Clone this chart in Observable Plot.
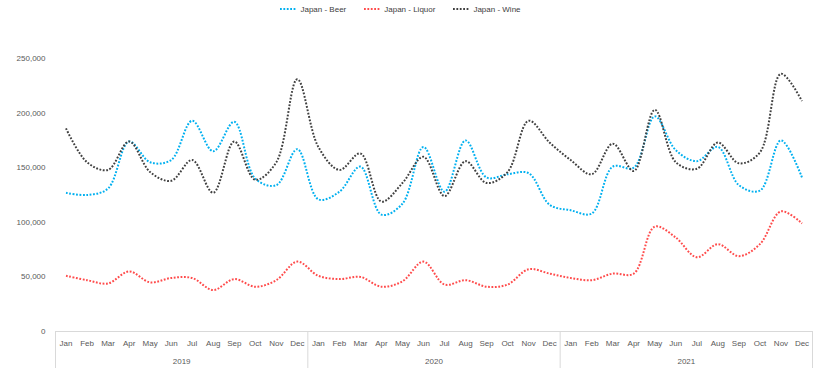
<!DOCTYPE html>
<html>
<head>
<meta charset="utf-8">
<script src="https://cdn.jsdelivr.net/npm/d3@7"></script>
<script src="https://cdn.jsdelivr.net/npm/@observablehq/plot@0.6"></script>
<style>
  html, body { margin: 0; padding: 0; background: #fff; }
  #legend { height: 18px; display: flex; justify-content: center; align-items: center; gap: 18px;
    font-family: "Liberation Sans", Arial, sans-serif; font-size: 8px; color: #404040; padding-right: 14px; }
  #legend .item { display: flex; align-items: center; }
  #legend svg { margin-right: 3px; }
</style>
</head>
<body>
<div id="legend"></div>
<div id="chart"></div>
<script>
const months = ["Jan","Feb","Mar","Apr","May","Jun","Jul","Aug","Sep","Oct","Nov","Dec"];
const years = ["2019","2020","2021"];
const seriesNames = ["Japan - Beer","Japan - Liquor","Japan - Wine"];
const seriesColors = ["#00B0F0","#FF4B4B","#404040"];
const yTicks = [0, 50000, 100000, 150000, 200000, 250000];

const beer = [127000,125000,131000,174000,155000,157000,193000,165000,192000,140000,134000,167000,
              121000,128000,151000,107000,117000,169000,128000,175000,141000,144000,145000,116000,
              111000,108000,151000,150000,197000,166000,156000,169000,134000,129000,175000,141000];
const liquor = [51000,47000,44000,55000,45000,49000,49000,38000,48000,41000,47000,64000,
                51000,48000,50000,41000,46000,64000,43000,47000,41000,43000,57000,53000,
                49000,47000,53000,53000,96000,86000,68000,80000,69000,80000,110000,99000];
const wine = [186000,155000,148000,174000,146000,138000,157000,127000,174000,139000,155000,231000,
              169000,148000,163000,119000,136000,160000,124000,156000,136000,146000,193000,173000,
              157000,144000,172000,147000,203000,155000,149000,173000,154000,164000,236000,211000];

const seriesValues = [beer, liquor, wine];
const data = seriesValues.flatMap((vals, s) =>
  vals.map((v, i) => ({ i, series: seriesNames[s], value: v })));

const dash = "1.8,1.6";

// legend
const legend = document.getElementById("legend");
seriesNames.forEach((name, s) => {
  const item = document.createElement("div");
  item.className = "item";
  item.innerHTML = `<svg width="17" height="4"><line x1="0" x2="17" y1="2" y2="2" stroke="${seriesColors[s]}" stroke-width="2" stroke-linecap="butt" stroke-dasharray="${dash}"/></svg><span>${name}</span>`;
  legend.appendChild(item);
});

const nMonths = years.length * months.length;

const chart = Plot.plot({
  width: 815,
  height: 358,
  marginLeft: 55,
  marginRight: 3,
  marginTop: 40,
  marginBottom: 45,
  style: { fontFamily: "Liberation Sans, Arial, sans-serif", fontSize: "8px", color: "#595959", background: "#fff" },
  x: { type: "linear", domain: [-0.5, nMonths - 0.5] },
  y: { domain: [0, 250000] },
  color: { domain: seriesNames, range: seriesColors },
  marks: [
    Plot.ruleY([0], { stroke: "#d9d9d9" }),
    Plot.axisY({ ticks: yTicks, tickSize: 0, tickPadding: 10, tickFormat: d3.format(","), label: null }),
    Plot.axisX({ ticks: d3.range(nMonths), tickSize: 0, tickPadding: 9,
                 tickFormat: i => months[i % 12], label: null }),
    Plot.axisX({ ticks: years.map((y, k) => k * 12 + 5.5), tickSize: 0, tickPadding: 27,
                 tickFormat: d => years[Math.round((d - 5.5) / 12)], label: null }),
    Plot.axisX({ ticks: d3.range(years.length + 1).map(k => k * 12 - 0.5), tickSize: 37,
                 tickFormat: () => "", stroke: "#d9d9d9", label: null }),
    Plot.line(data, { x: "i", y: "value", z: "series", stroke: "series",
                      curve: "catmull-rom", strokeWidth: 2, strokeDasharray: dash,
                      strokeLinecap: "butt", strokeLinejoin: "miter" })
  ]
});
document.getElementById("chart").appendChild(chart);
</script>
</body>
</html>
